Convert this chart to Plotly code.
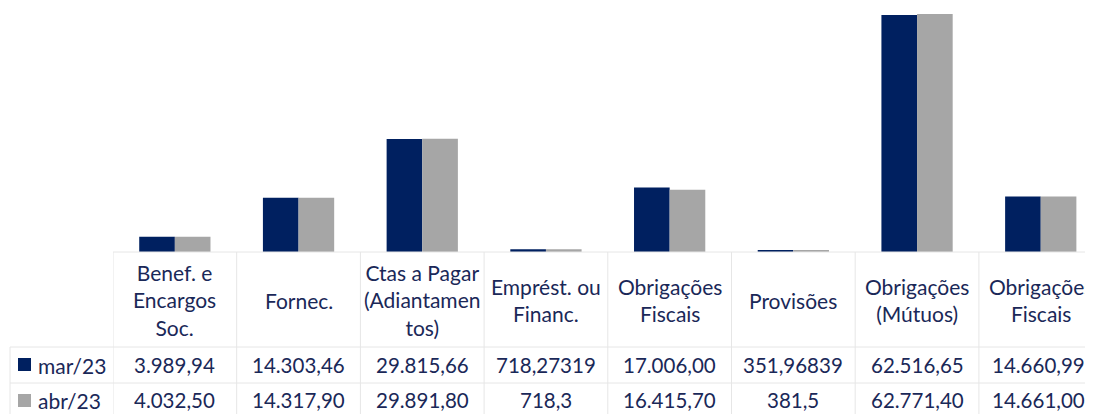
import plotly.graph_objects as go

# ---- data ----
categories = ["Benef. e<br>Encargos<br>Soc.", "Fornec.", "Ctas a Pagar<br>(Adiantamen<br>tos)",
              "Emprést. ou<br>Financ.", "Obrigações<br>Fiscais", "Provisões",
              "Obrigações<br>(Mútuos)", "Obrigações<br>Fiscais"]
series_names = ["mar/23", "abr/23"]
mar23 = [3989.94, 14303.46, 29815.66, 718.27319, 17006.00, 351.96839, 62516.65, 14660.99]
abr23 = [4032.50, 14317.90, 29891.80, 718.3, 16415.70, 381.5, 62771.40, 14661.00]
mar23_dec = [2, 2, 2, 5, 2, 5, 2, 2]
abr23_dec = [2, 2, 2, 1, 2, 1, 2, 2]

W, H = 1093, 414
OFF = 8  # page body margin
NAVY = "#002060"
GRAY = "#a6a6a6"
TXT = "#1a2858"
LINE = "#e6e6e6"
FONT = "Lato"
FS = 21
FS_VAL = 20.5


def br(v, d):
    s = f"{v:,.{d}f}"
    return s.replace(",", "X").replace(".", ",").replace("X", ".")


def px_x(p):
    return (p - OFF) / W


def px_y(p):
    return 1 - (p - OFF) / H


x_idx = list(range(len(categories)))
left_px = 113
cat_w = 123.7
x_range = [-0.5, -0.5 + (W + OFF - left_px) / cat_w]
base_px = 252
top_px = 14
top_val = max(abr23) * (base_px - OFF) / (base_px - top_px)

fig = go.Figure()
fig.add_trace(go.Bar(x=x_idx, y=mar23, name=series_names[0], marker=dict(color=NAVY, line=dict(width=0))))
fig.add_trace(go.Bar(x=x_idx, y=abr23, name=series_names[1], marker=dict(color=GRAY, line=dict(width=0))))

fig.update_layout(
    width=W, height=H, margin=dict(l=0, r=0, t=0, b=0),
    paper_bgcolor="white", plot_bgcolor="white",
    barmode="group", bargap=0.424, bargroupgap=0,
    showlegend=False,
    xaxis=dict(domain=[px_x(left_px), 1], range=x_range, showticklabels=False,
               showgrid=False, zeroline=False, showline=False, ticks=""),
    yaxis=dict(domain=[px_y(base_px), 1], range=[0, top_val], showticklabels=False,
               showgrid=False, zeroline=False, showline=False, ticks=""),
    font=dict(family=FONT, color=TXT, size=FS),
)

shapes = []
row1_top, row2_top = 347, 383
# horizontal lines
shapes.append(dict(type="line", xref="paper", yref="paper", x0=px_x(left_px), x1=1,
                   y0=px_y(base_px), y1=px_y(base_px), line=dict(color=LINE, width=1)))
for yp in (row1_top, row2_top):
    shapes.append(dict(type="line", xref="paper", yref="paper", x0=px_x(10), x1=1,
                       y0=px_y(yp), y1=px_y(yp), line=dict(color=LINE, width=1)))
# vertical lines
shapes.append(dict(type="line", xref="paper", yref="paper", x0=px_x(10), x1=px_x(10),
                   y0=px_y(row1_top), y1=0, line=dict(color=LINE, width=1)))
for i in range(len(categories)):
    xb = i - 0.5
    shapes.append(dict(type="line", xref="x", yref="paper", x0=xb, x1=xb,
                       y0=px_y(base_px), y1=0, line=dict(color=LINE, width=1)))
# legend keys
shapes.append(dict(type="rect", xref="paper", yref="paper", x0=px_x(18), x1=px_x(31),
                   y0=px_y(371), y1=px_y(358), line=dict(width=0), fillcolor=NAVY))
shapes.append(dict(type="rect", xref="paper", yref="paper", x0=px_x(18), x1=px_x(31),
                   y0=px_y(407), y1=px_y(394), line=dict(width=0), fillcolor=GRAY))

ann = []
last = len(categories) - 1
for i, c in enumerate(categories):
    ann.append(dict(x=i, y=px_y(300), xref="x", yref="paper", text=c, showarrow=False,
                    xanchor="center", yanchor="middle", align="center"))
    for vals, decs, yp in ((mar23, mar23_dec, 365), (abr23, abr23_dec, 400)):
        if i == last:
            pos = dict(x=px_x(1087), xref="paper", xanchor="right")
        else:
            pos = dict(x=i, xref="x", xanchor="center")
        ann.append(dict(y=px_y(yp), yref="paper", text=br(vals[i], decs[i]),
                        showarrow=False, yanchor="middle", font=dict(size=FS_VAL), **pos))
ann.append(dict(x=px_x(36), y=px_y(365), xref="paper", yref="paper", text=series_names[0],
                showarrow=False, xanchor="left", yanchor="middle"))
ann.append(dict(x=px_x(36), y=px_y(400), xref="paper", yref="paper", text=series_names[1],
                showarrow=False, xanchor="left", yanchor="middle"))

fig.update_layout(shapes=shapes, annotations=ann)
fig.write_html("out.html")
